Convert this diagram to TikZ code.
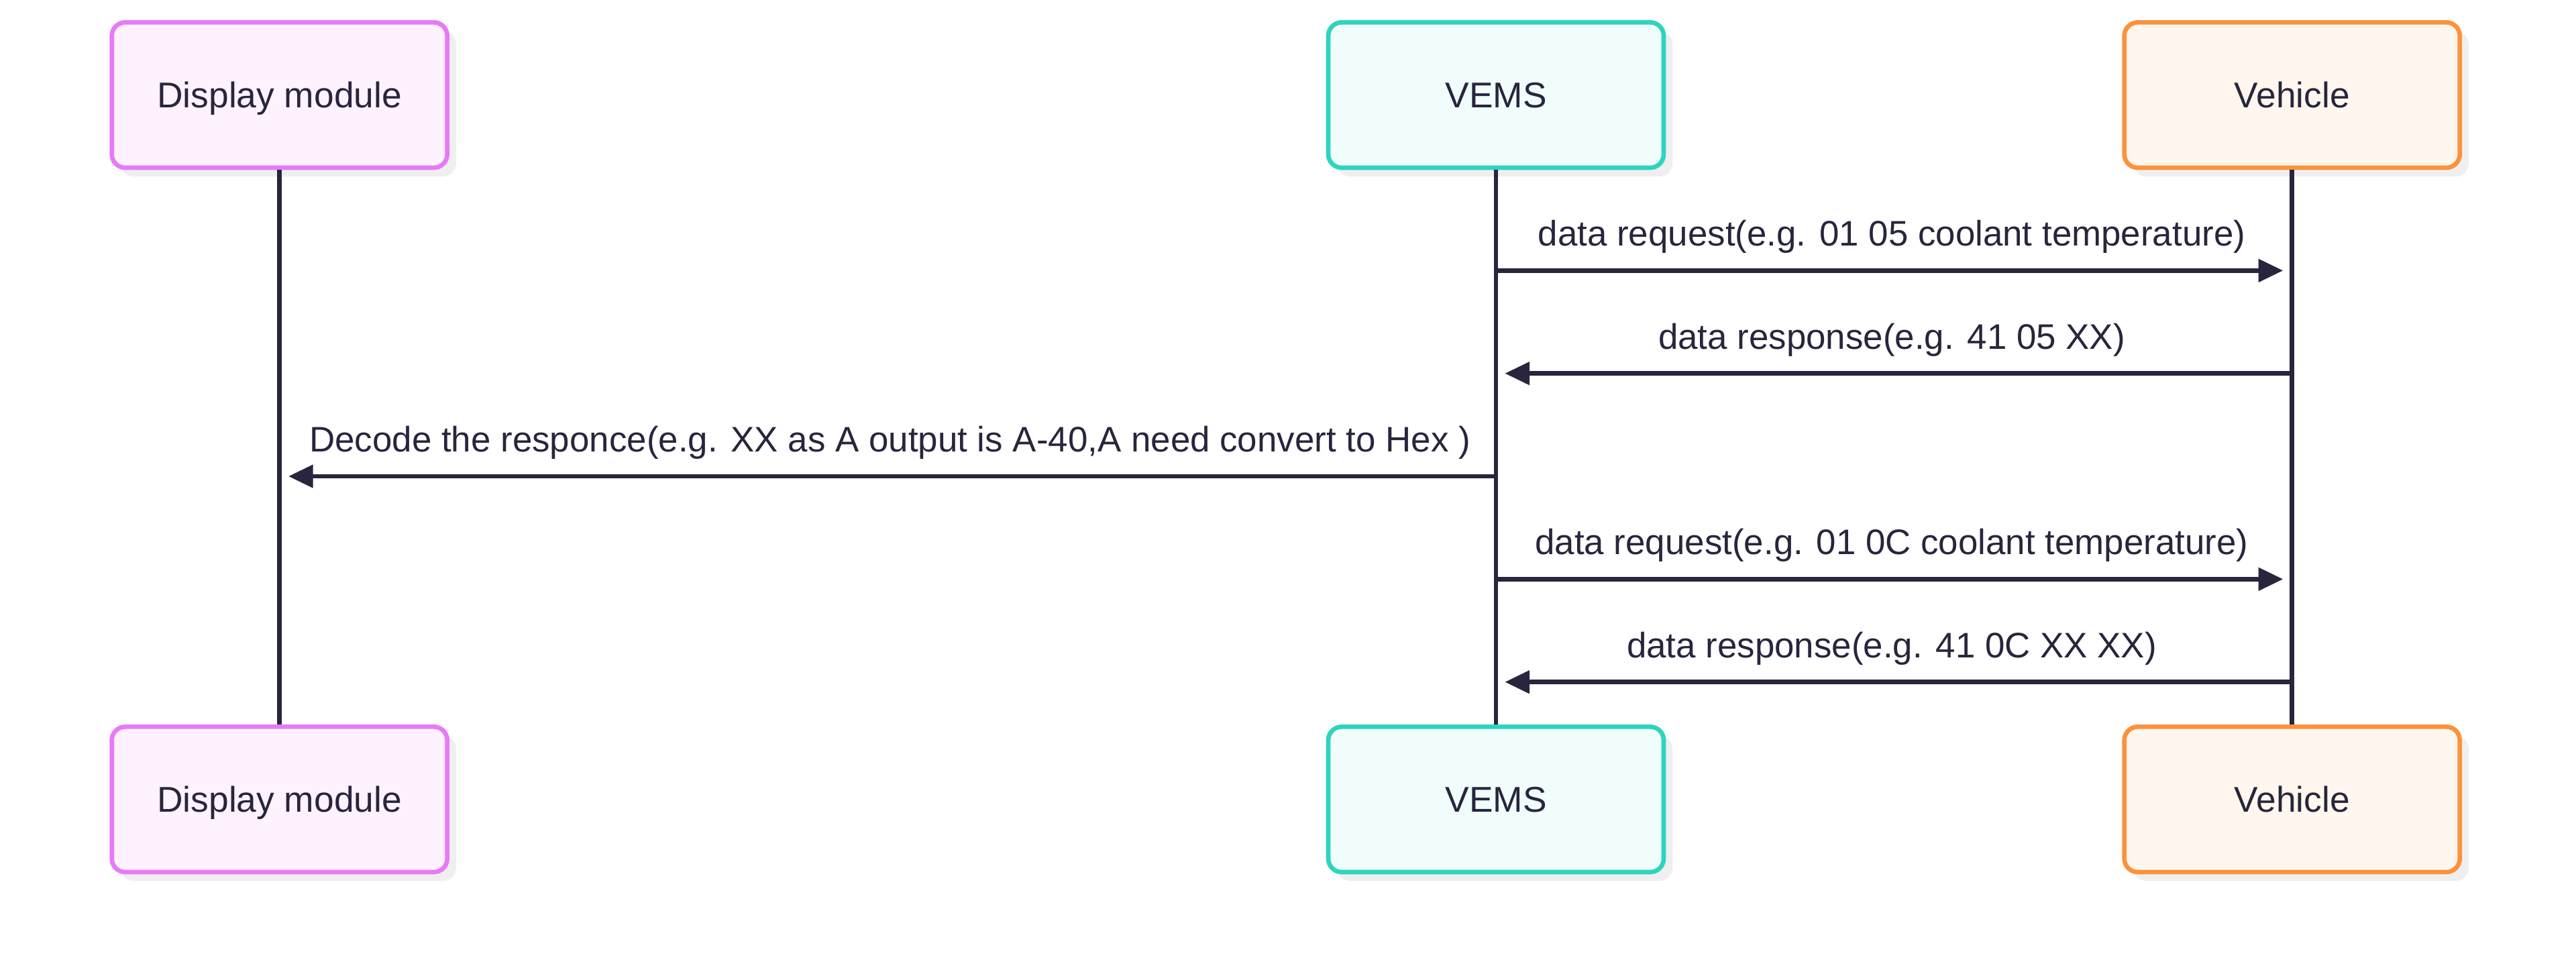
\documentclass[tikz,border=0pt]{standalone}
\usepackage{fontspec}
\setmainfont{Liberation Sans}
\usepackage{tikz}
\usetikzlibrary{arrows.meta,shadows}

\definecolor{inkline}{HTML}{28253D}
\definecolor{shadowgray}{HTML}{EFEFEF}
\definecolor{displine}{HTML}{E879F9}
\definecolor{dispfill}{HTML}{FDF2FE}
\definecolor{vemsline}{HTML}{2DD4BF}
\definecolor{vemsfill}{HTML}{F0FDFA}
\definecolor{vehline}{HTML}{FB923C}
\definecolor{vehfill}{HTML}{FFF7ED}

\tikzset{
  actor/.style={draw, rounded corners=4.5pt, line width=1.5pt, minimum width=112.5pt, minimum height=48.75pt, inner sep=0pt, text height=8.6pt, text depth=0pt, text=inkline, font=\fontsize{12}{14}\selectfont, drop shadow={shadow xshift=3pt, shadow yshift=-3pt, fill=shadowgray, opacity=1}},
  lifeline/.style={draw=inkline, line width=1.5pt},
  msg/.style={draw=inkline, line width=1.5pt, -{Triangle[length=8.25pt,width=7.5pt]}, shorten >=3pt},
  msglabel/.style={anchor=base, inner sep=0pt, text=inkline, font=\fontsize{11.9}{14}\selectfont}
}

\begin{document}
\begin{tikzpicture}[x=0.75pt,y=0.75pt,yscale=-1,xscale=1]
\useasboundingbox (0,0) rectangle (1152,432.6); %diagram size

%Actors top
\node (dispTop) at (125,42.5) [actor, draw=displine, fill=dispfill] {Display module};
\node (vemsTop) at (669,42.5) [actor, draw=vemsline, fill=vemsfill] {VEMS};
\node (vehTop) at (1025,42.5) [actor, draw=vehline, fill=vehfill] {Vehicle};
%Actors bottom
\node (dispBot) at (125,357.5) [actor, draw=displine, fill=dispfill] {Display module};
\node (vemsBot) at (669,357.5) [actor, draw=vemsline, fill=vemsfill] {VEMS};
\node (vehBot) at (1025,357.5) [actor, draw=vehline, fill=vehfill] {Vehicle};

%Lifelines
\draw [lifeline] (dispTop.south) -- (dispBot.north);
\draw [lifeline] (vemsTop.south) -- (vemsBot.north);
\draw [lifeline] (vehTop.south) -- (vehBot.north);

%Messages
\draw [msg] (vemsTop |- 0,121) -- (vehTop |- 0,121);
\draw [msg] (vehTop |- 0,167) -- (vemsTop |- 0,167);
\draw [msg] (vemsTop |- 0,213) -- (dispTop |- 0,213);
\draw [msg] (vemsTop |- 0,259) -- (vehTop |- 0,259);
\draw [msg] (vehTop |- 0,305) -- (vemsTop |- 0,305);

% Text Node
\node (req1) at (846,110) [msglabel] {data request(e.g. 01 05 coolant temperature)};
% Text Node
\node (resp1) at (846,156) [msglabel] {data response(e.g. 41 05 XX)};
% Text Node
\node (decode) at (398,202) [msglabel] {Decode the responce(e.g. XX as A output is A-40,A need convert to Hex )};
% Text Node
\node (req2) at (846,248) [msglabel] {data request(e.g. 01 0C coolant temperature)};
% Text Node
\node (resp2) at (846,294) [msglabel] {data response(e.g. 41 0C XX XX)};
\end{tikzpicture}
\end{document}
